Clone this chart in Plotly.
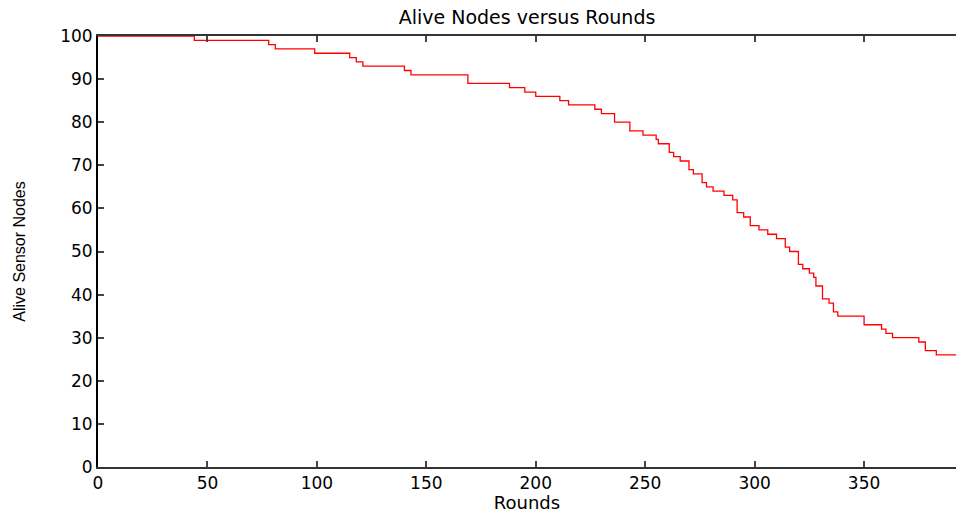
import plotly.graph_objects as go

# Step change points
rounds = [0, 44, 78, 81, 99, 115, 118, 121, 140, 143, 169, 188, 195, 200, 211,
          215, 227, 230, 236, 243, 249, 255, 256, 261, 263, 266, 270, 272, 276, 278,
          281, 286, 290, 292, 295, 298, 302, 306, 310, 314, 316, 320, 322, 325, 327,
          328, 331, 334, 336, 338, 350, 358, 360, 363, 375, 378, 383, 392]
alive = [100, 99, 98, 97, 96, 95, 94, 93, 92, 91, 89, 88, 87, 86, 85,
         84, 83, 82, 80, 78, 77, 76, 75, 73, 72, 71, 69, 68, 66, 65,
         64, 63, 62, 59, 58, 56, 55, 54, 53, 51, 50, 47, 46, 45, 44,
         42, 39, 38, 36, 35, 33, 32, 31, 30, 29, 27, 26, 26]

x_ticks = [0, 50, 100, 150, 200, 250, 300, 350]
y_ticks = [0, 10, 20, 30, 40, 50, 60, 70, 80, 90, 100]

fig = go.Figure()
fig.add_trace(go.Scatter(x=rounds, y=alive, mode="lines",
                         line=dict(color="#ff0000", width=1.3, shape="hv"),
                         showlegend=False, hoverinfo="skip"))

font_main = "DejaVu Sans, Verdana, sans-serif"
fig.update_layout(
    width=956, height=513,
    margin=dict(l=98, r=0, t=36, b=46),
    paper_bgcolor="white", plot_bgcolor="white",
    font=dict(family=font_main, size=17, color="black"),
    title=dict(text="Alive Nodes versus Rounds", x=0.5, xref="paper",
               y=1 - 17 / 513, yref="container", yanchor="middle",
               font=dict(size=19, family=font_main)),
)

fig.update_xaxes(range=[0, 392], tickvals=x_ticks, ticks="inside", ticklen=6,
                 tickwidth=1.5, tickcolor="#444", showline=True, linewidth=2,
                 linecolor="#333", mirror="ticks", showgrid=False, zeroline=False,
                 tickfont=dict(size=17),
                 title=dict(text="Rounds", font=dict(size=18), standoff=8))
fig.update_yaxes(range=[0, 100], tickvals=y_ticks, ticks="inside", ticklen=6,
                 tickwidth=1.5, tickcolor="#444", showline=True, linewidth=2,
                 linecolor="black", mirror=False, showgrid=False, zeroline=False,
                 tickfont=dict(size=17),
                 title=dict(text="Alive Sensor Nodes",
                            font=dict(size=16, family="Liberation Sans Narrow, Liberation Sans, Arial, sans-serif"),
                            standoff=31))

fig.write_html("out.html")
